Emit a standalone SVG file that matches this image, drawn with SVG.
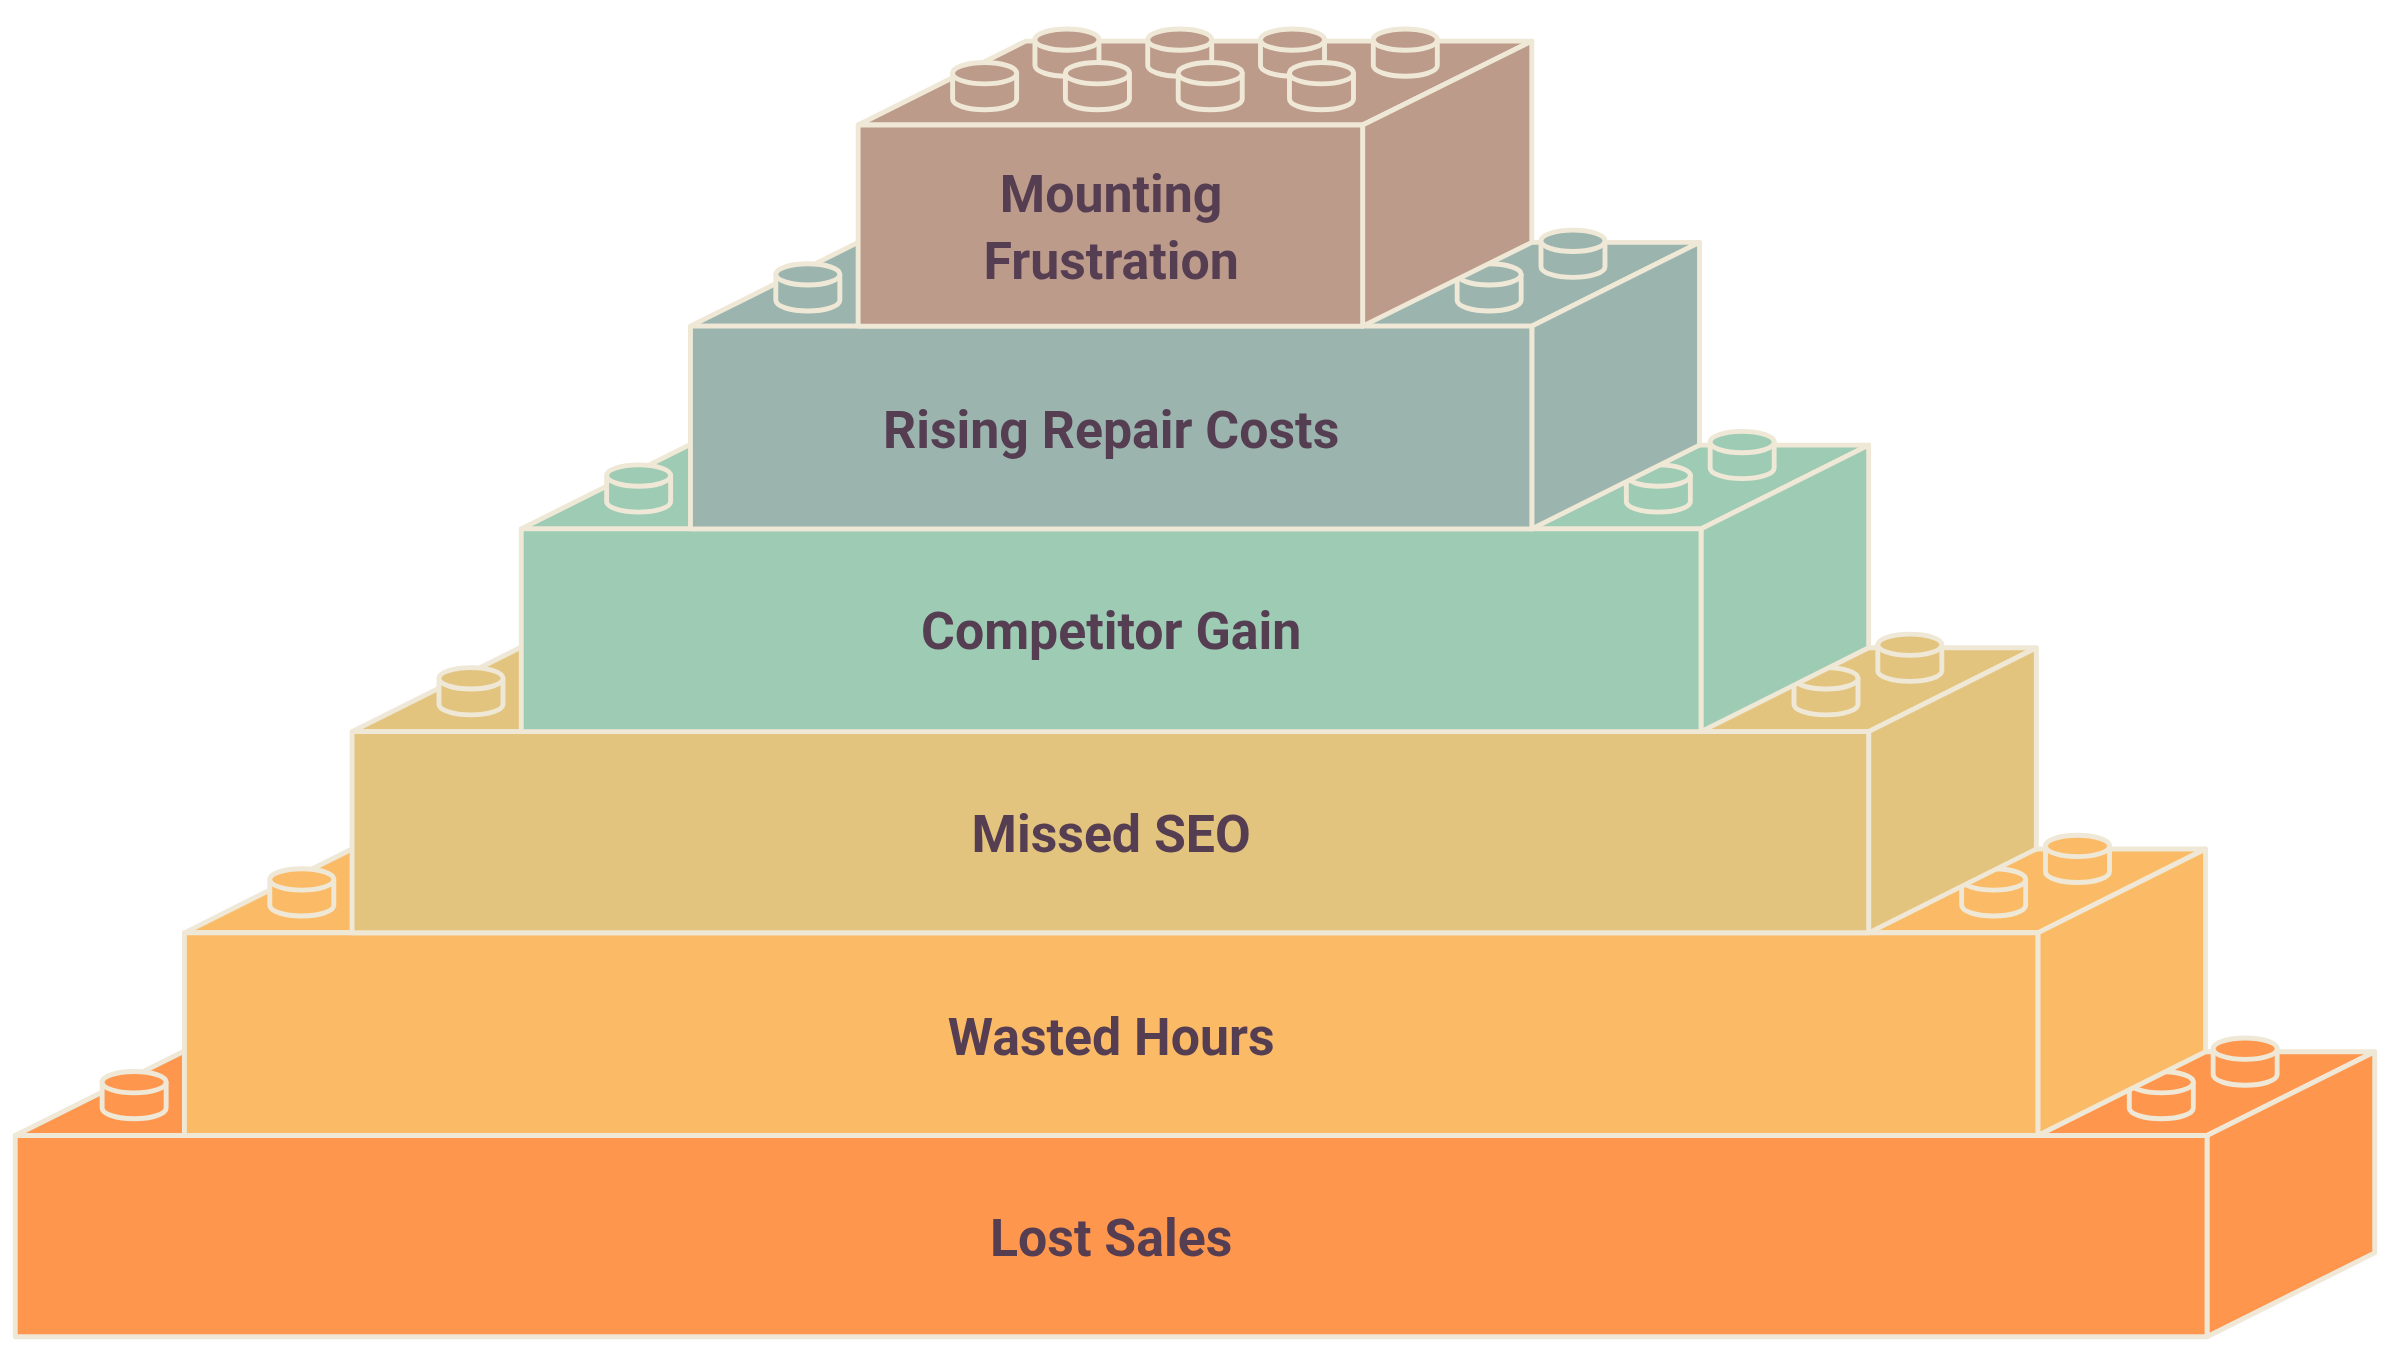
<svg xmlns="http://www.w3.org/2000/svg" width="2390" height="1357" viewBox="0 0 2390 1357">
<defs>
<style>
.s{stroke:#EFE8D6;stroke-width:3.2;stroke-linejoin:round}
.t{font-family:Roboto,"Liberation Sans",sans-serif;font-weight:bold;font-size:34px;fill:#553D52;text-anchor:middle}
.c1{fill:#FF964D}.c2{fill:#FBBB66}.c3{fill:#E2C47E}.c4{fill:#9DCBB4}.c5{fill:#9BB5AE}.c6{fill:#BC9B8A}
</style>
<g id="stud"><path class="s" d="M-21,0 L-21,17 A21 7 0 0 0 21,17 L21,0 Z"/><ellipse class="s" cx="0" cy="0" rx="21" ry="7"/></g>
</defs>
<rect width="2390" height="1357" fill="#fff"/>
<g transform="scale(1.5242)">
<g id="lost-sales" class="c1">
<path class="s" d="M10,745 L120,690 L1558,690 L1448,745 Z"/>
<path class="s" d="M1448,745 L1558,690 L1558,822 L1448,877 Z"/>
<rect class="s" x="10" y="745" width="1438" height="132"/>
<use href="#stud" x="88" y="710"/><use href="#stud" x="1473" y="688"/><use href="#stud" x="1418" y="710"/>
<text class="t" x="729" y="824">Lost Sales</text>
</g>
<g id="wasted-hours" class="c2">
<path class="s" d="M121,612 L231,557 L1447,557 L1337,612 Z"/>
<path class="s" d="M1337,612 L1447,557 L1447,690 L1337,745 Z"/>
<rect class="s" x="121" y="612" width="1216" height="133"/>
<use href="#stud" x="198" y="577"/><use href="#stud" x="1363" y="555"/><use href="#stud" x="1308" y="577"/>
<text class="t" x="729" y="692">Wasted Hours</text>
</g>
<g id="missed-seo" class="c3">
<path class="s" d="M231,480 L341,425 L1336,425 L1226,480 Z"/>
<path class="s" d="M1226,480 L1336,425 L1336,557 L1226,612 Z"/>
<rect class="s" x="231" y="480" width="995" height="132"/>
<use href="#stud" x="309" y="445"/><use href="#stud" x="1253" y="423"/><use href="#stud" x="1198" y="445"/>
<text class="t" x="729" y="559">Missed SEO</text>
</g>
<g id="competitor-gain" class="c4">
<path class="s" d="M342,347 L452,292 L1226,292 L1116,347 Z"/>
<path class="s" d="M1116,347 L1226,292 L1226,425 L1116,480 Z"/>
<rect class="s" x="342" y="347" width="774" height="133"/>
<use href="#stud" x="419" y="312"/><use href="#stud" x="1143" y="290"/><use href="#stud" x="1088" y="312"/>
<text class="t" x="729" y="426">Competitor Gain</text>
</g>
<g id="rising-repair-costs" class="c5">
<path class="s" d="M453,214 L563,159 L1115,159 L1005,214 Z"/>
<path class="s" d="M1005,214 L1115,159 L1115,292 L1005,347 Z"/>
<rect class="s" x="453" y="214" width="552" height="133"/>
<use href="#stud" x="530" y="180"/><use href="#stud" x="1032" y="158"/><use href="#stud" x="977" y="180"/>
<text class="t" x="729" y="294">Rising Repair Costs</text>
</g>
<g id="mounting-frustration" class="c6">
<path class="s" d="M563,82 L673,27 L1005,27 L894,82 Z"/>
<path class="s" d="M894,82 L1005,27 L1005,159 L894,214 Z"/>
<rect class="s" x="563" y="82" width="331" height="132"/>
<use href="#stud" x="700" y="26"/><use href="#stud" x="774" y="26"/><use href="#stud" x="848" y="26"/><use href="#stud" x="922" y="26"/>
<use href="#stud" x="646" y="48"/><use href="#stud" x="720" y="48"/><use href="#stud" x="794" y="48"/><use href="#stud" x="867" y="48"/>
<text class="t" x="729" y="139">Mounting</text>
<text class="t" x="729" y="183">Frustration</text>
</g>
</g>
</svg>
